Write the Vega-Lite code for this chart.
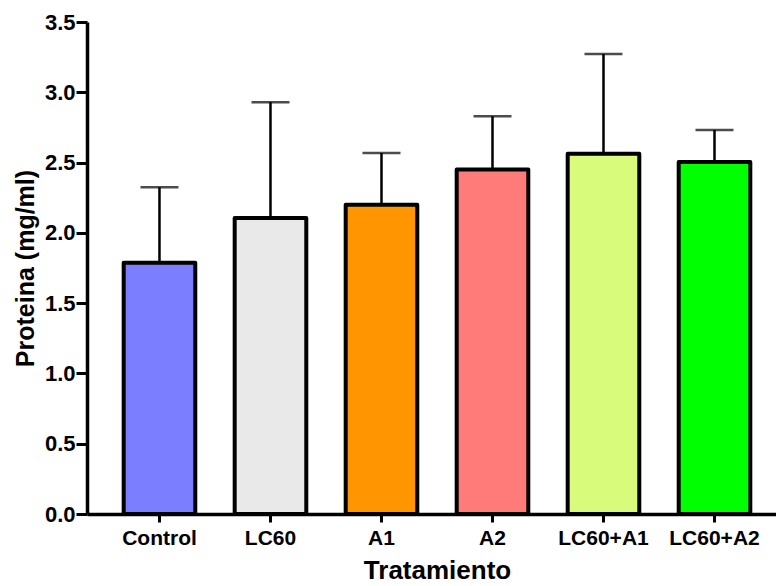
{
  "$schema": "https://vega.github.io/schema/vega-lite/v6.json",
  "autosize": {"type": "none"},
  "padding": {"left": 87, "top": 22, "right": 0, "bottom": 72},
  "width": 689,
  "height": 492,
  "background": "white",
  "config": {
    "view": {"stroke": null},
    "font": "Liberation Sans",
    "axis": {
      "grid": false,
      "domainColor": "black",
      "domainWidth": 3.5,
      "tickColor": "black",
      "tickWidth": 3,
      "labelColor": "black",
      "labelFont": "Liberation Sans",
      "labelFontWeight": "bold",
      "titleColor": "black",
      "titleFont": "Liberation Sans",
      "titleFontWeight": "bold"
    }
  },
  "data": {
    "values": [
      {"grupo": "Control", "media": 1.788, "sup": 2.324},
      {"grupo": "LC60", "media": 2.106, "sup": 2.93},
      {"grupo": "A1", "media": 2.2, "sup": 2.568},
      {"grupo": "A2", "media": 2.45, "sup": 2.83},
      {"grupo": "LC60+A1", "media": 2.563, "sup": 3.272},
      {"grupo": "LC60+A2", "media": 2.504, "sup": 2.732}
    ]
  },
  "encoding": {
    "x": {
      "field": "grupo",
      "type": "nominal",
      "sort": null,
      "scale": {"paddingInner": 0.355, "paddingOuter": 0.281, "align": 0.588},
      "axis": {
        "title": "Tratamiento",
        "labelAngle": 0,
        "labelFontSize": 21,
        "titleFontSize": 26,
        "tickSize": 8,
        "labelPadding": 5,
        "titlePadding": 9,
        "titleX": 350
      }
    }
  },
  "layer": [
    {
      "mark": {"type": "rule", "color": "black", "strokeWidth": 2.5},
      "encoding": {
        "y": {"field": "media", "type": "quantitative"},
        "y2": {"field": "sup"}
      }
    },
    {
      "mark": {"type": "tick", "color": "black", "thickness": 2.5, "size": 38},
      "encoding": {
        "y": {"field": "sup", "type": "quantitative"}
      }
    },
    {
      "mark": {"type": "bar", "stroke": "black", "strokeWidth": 4, "strokeJoin": "round"},
      "encoding": {
        "y": {
          "field": "media",
          "type": "quantitative",
          "scale": {"domain": [0, 3.5], "nice": false, "zero": true},
          "axis": {
            "title": "Proteina (mg/ml)",
            "values": [0, 0.5, 1, 1.5, 2, 2.5, 3, 3.5],
            "format": ".1f",
            "labelFontSize": 22,
            "titleFontSize": 25,
            "tickSize": 11,
            "labelPadding": 1,
            "titlePadding": 6
          }
        },
        "fill": {
          "field": "grupo",
          "type": "nominal",
          "sort": null,
          "legend": null,
          "scale": {
            "domain": ["Control", "LC60", "A1", "A2", "LC60+A1", "LC60+A2"],
            "range": ["#7B7FFF", "#E9E9E9", "#FF9500", "#FF7B7A", "#D9FB7C", "#00FF00"]
          }
        }
      }
    }
  ],
  "resolve": {"scale": {"y": "shared"}}
}
